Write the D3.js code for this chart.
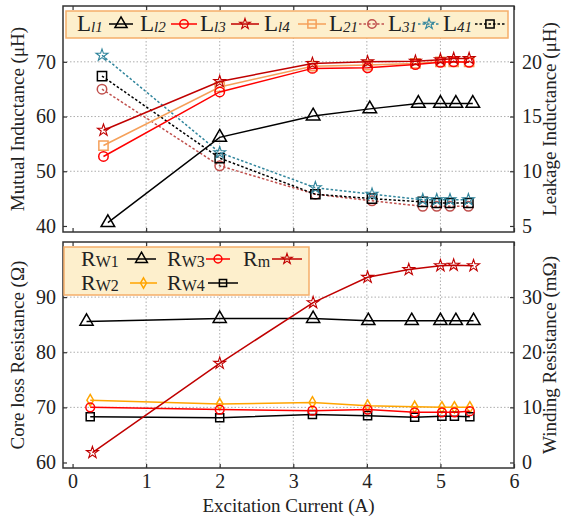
<!DOCTYPE html>
<html>
<head>
<meta charset="utf-8">
<script src="https://cdn.jsdelivr.net/npm/d3@7"></script>
<style>
  body { margin: 0; background: #fff; }
  text { font-family: "Liberation Serif", "DejaVu Serif", serif; fill: #222; }
</style>
</head>
<body>
<script>
// ********************************** //
// ** Data
// ********************************** //
// top panel: inductances vs excitation current (A)
const currentLl1 = [0.48, 2.0, 3.27, 4.04, 4.70, 5.0, 5.21, 5.44];
const currentSelf = [0.42, 2.0, 3.26, 4.01, 4.66, 5.0, 5.18, 5.39];
const currentMutual = [0.40, 2.0, 3.30, 4.07, 4.76, 4.95, 5.13, 5.38];

// left axis (uH)
const Ll1 = [40.6, 56.2, 60.1, 61.4, 62.4, 62.4, 62.4, 62.4];
const Ll2 = [52.7, 64.5, 68.8, 68.9, 69.5, 69.9, 70.0, 69.9];
const Ll3 = [57.5, 66.4, 69.7, 70.0, 70.1, 70.4, 70.6, 70.6];
const Ll4 = [54.7, 65.4, 69.2, 69.4, 69.7, 70.0, 70.0, 70.0];
// right axis (uH)
const L21 = [17.5, 10.5, 7.9, 7.3, 6.8, 6.8, 6.8, 6.8];
const L31 = [20.6, 11.7, 8.5, 7.9, 7.4, 7.4, 7.4, 7.4];
const L41 = [18.7, 11.2, 7.9, 7.5, 7.2, 7.1, 7.1, 7.1];

// bottom panel: resistances vs excitation current (A)
const currentRw1 = [0.19, 2.0, 3.27, 4.02, 4.61, 5.0, 5.21, 5.45];
const currentRw = [0.24, 2.0, 3.26, 4.01, 4.65, 5.02, 5.19, 5.40];
const currentRm = [0.27, 2.0, 3.27, 4.01, 4.57, 5.0, 5.18, 5.45];

// right axis (mOhm)
const Rw1 = [25.6, 26.1, 26.1, 25.7, 25.7, 25.7, 25.7, 25.7];
const Rw2 = [11.3, 10.6, 10.9, 10.3, 10.1, 10.0, 10.0, 10.0];
const Rw3 = [10.0, 9.6, 9.4, 9.6, 9.1, 9.1, 9.1, 9.3];
const Rw4 = [8.3, 8.1, 8.7, 8.5, 8.2, 8.4, 8.4, 8.3];
// left axis (Ohm)
const Rm = [61.8, 78.0, 89.0, 93.6, 95.0, 95.7, 95.8, 95.7];

// ticks
const xTicks = [0, 1, 2, 3, 4, 5, 6];
const topLeftTicks = [40, 50, 60, 70];
const topRightTicks = [5, 10, 15, 20];
const botLeftTicks = [60, 70, 80, 90];
const botRightTicks = [0, 10, 20, 30];

// ********************************** //
// ** Layout
// ********************************** //
const W = 571, H = 520;
const L = 63, R = 514;
const top0 = 6, top1 = 232, bot0 = 242, bot1 = 468;

const svg = d3.select("body").append("svg").attr("width", W).attr("height", H);

const x = d3.scaleLinear().domain([-0.13, 6]).range([L, R]);
const yTopL = d3.scaleLinear().domain([38.9, 80.2]).range([top1, top0]);
const yTopR = d3.scaleLinear().domain([4.45, 25.1]).range([top1, top0]);
const yBotL = d3.scaleLinear().domain([59, 100]).range([bot1, bot0]);
const yBotR = d3.scaleLinear().domain([-1, 40]).range([bot1, bot0]);

const sym = {
  tri: d3.symbolTriangle, circ: d3.symbolCircle, star: d3.symbolStar,
  sq: d3.symbolSquare, dia: d3.symbolDiamond
};
const symSize = { tri: 80, circ: 70, star: 44, sq: 85, dia: 38 };

// ********************************** //
// ** Panel frame, grid, axes
// ********************************** //
const drawPanel = (y0, y1, yL, yR, lTicks, rTicks, showX) => {
  const g = svg.append("g");
  // grid
  g.append("g").selectAll("line").data(xTicks.filter(t => t > 0 && t < 6)).join("line")
    .attr("x1", d => x(d)).attr("x2", d => x(d)).attr("y1", y0).attr("y2", y1)
    .attr("stroke", "#999").attr("stroke-width", 0.8).attr("stroke-dasharray", "1.5,2");
  g.append("g").selectAll("line").data(lTicks.filter(t => yL(t) > y0 + 5 && yL(t) < y1 - 10)).join("line")
    .attr("x1", L).attr("x2", R).attr("y1", d => yL(d)).attr("y2", d => yL(d))
    .attr("stroke", "#999").attr("stroke-width", 0.8).attr("stroke-dasharray", "1.5,2");

  const style = a => {
    a.select(".domain").remove();
    a.selectAll(".tick line").attr("stroke", "#333").attr("stroke-width", 1.2);
    a.selectAll("text").attr("font-size", 20).attr("fill", "#222")
      .style("font-family", "'Liberation Serif', serif");
  };
  g.append("g").attr("transform", `translate(${L},0)`)
    .call(d3.axisLeft(yL).tickValues(lTicks).tickSize(-4).tickPadding(7)).call(style);
  g.append("g").attr("transform", `translate(${R},0)`)
    .call(d3.axisRight(yR).tickValues(rTicks).tickSize(-4).tickPadding(8)).call(style);
  g.append("g").attr("transform", `translate(0,${y1})`)
    .call(d3.axisBottom(x).tickValues(xTicks).tickSize(-4).tickPadding(6)
      .tickFormat(showX ? d3.format("d") : "")).call(style);
  g.append("g").attr("transform", `translate(0,${y0})`)
    .call(d3.axisTop(x).tickValues(xTicks).tickSize(-4).tickFormat("")).call(style);

  g.append("rect").attr("x", L).attr("y", y0).attr("width", R - L).attr("height", y1 - y0)
    .attr("fill", "none").attr("stroke", "#333").attr("stroke-width", 1.5);
  return g;
};

drawPanel(top0, top1, yTopL, yTopR, topLeftTicks, topRightTicks, false);
drawPanel(bot0, bot1, yBotL, yBotR, botLeftTicks, botRightTicks, true);

// ********************************** //
// ** Series
// ********************************** //
const markStroke = shape => (shape === "star" ? 1.1 : 1.5);

const drawSeries = (xs, ys, yScale, o) => {
  const pts = xs.map((v, i) => [x(v), yScale(ys[i])]);
  const g = svg.append("g");
  g.append("path").attr("d", d3.line()(pts)).attr("fill", "none")
    .attr("stroke", o.color).attr("stroke-width", 1.5)
    .attr("stroke-dasharray", o.dash ? "2.5,2" : null);
  g.selectAll("path.m").data(pts).join("path").attr("class", "m")
    .attr("transform", d => `translate(${d[0]},${d[1]})`)
    .attr("d", d3.symbol(sym[o.shape], o.size || symSize[o.shape])())
    .attr("fill", "none").attr("stroke", o.color).attr("stroke-width", markStroke(o.shape));
};

const topSeries = [
  { xs: currentMutual, ys: L21, y: yTopR, color: "#c0504d", shape: "circ", dash: true, name: ["L", "21"] },
  { xs: currentMutual, ys: L41, y: yTopR, color: "#000", shape: "sq", dash: true, name: ["L", "41"] },
  { xs: currentMutual, ys: L31, y: yTopR, color: "#31859c", shape: "star", dash: true, name: ["L", "31"] },
  { xs: currentLl1, ys: Ll1, y: yTopL, color: "#000", shape: "tri", name: ["L", "l1"] },
  { xs: currentSelf, ys: Ll4, y: yTopL, color: "#f5a05a", shape: "sq", name: ["L", "l4"] },
  { xs: currentSelf, ys: Ll2, y: yTopL, color: "#ff0000", shape: "circ", name: ["L", "l2"] },
  { xs: currentSelf, ys: Ll3, y: yTopL, color: "#c00000", shape: "star", name: ["L", "l3"] }
];
topSeries.forEach(s => drawSeries(s.xs, s.ys, s.y, s));

const botSeries = [
  { xs: currentRw1, ys: Rw1, y: yBotR, color: "#000", shape: "tri", size: 75, name: ["R", "W1"] },
  { xs: currentRw, ys: Rw2, y: yBotR, color: "#ffa500", shape: "dia", name: ["R", "W2"] },
  { xs: currentRw, ys: Rw4, y: yBotR, color: "#000", shape: "sq", size: 65, name: ["R", "W4"] },
  { xs: currentRw, ys: Rw3, y: yBotR, color: "#ff0000", shape: "circ", size: 60, name: ["R", "W3"] },
  { xs: currentRm, ys: Rm, y: yBotL, color: "#c00000", shape: "star", name: ["R", "m"] }
];
botSeries.forEach(s => drawSeries(s.xs, s.ys, s.y, s));

// ********************************** //
// ** Legends
// ********************************** //
const legendItem = (g, s, lx, sx, sw, by, big, small, italic) => {
  const t = g.append("text").attr("x", lx).attr("y", by).attr("font-size", big);
  t.append("tspan").text(s.name[0]);
  t.append("tspan").attr("font-size", small).attr("font-style", italic ? "italic" : null)
    .attr("dy", 1).text(s.name[1]);
  const cy = by - 7;
  g.append("line").attr("x1", sx).attr("x2", sx + sw).attr("y1", cy).attr("y2", cy)
    .attr("stroke", s.color).attr("stroke-width", 1.5)
    .attr("stroke-dasharray", s.dash ? "2.5,2" : null);
  g.append("path").attr("transform", `translate(${sx + sw / 2},${cy})`)
    .attr("d", d3.symbol(sym[s.shape], (s.size || symSize[s.shape]) * 0.8)())
    .attr("fill", "none").attr("stroke", s.color).attr("stroke-width", markStroke(s.shape));
};

const legTop = svg.append("g");
legTop.append("rect").attr("x", 66).attr("y", 11).attr("width", 442).attr("height", 27)
  .attr("fill", "#fdefcc").attr("stroke", "#f5ae6a").attr("stroke-width", 1.5);
const topOrder = ["l1", "l2", "l3", "l4", "21", "31", "41"]
  .map(k => topSeries.find(s => s.name[1] === k));
const topLabelX = [77, 140, 200, 264, 329, 388, 443];
const topSymX = [109, 171, 231, 298, 359, 418, 475];
const topSymW = [24, 26, 28, 28, 26, 22, 30];
topOrder.forEach((s, i) =>
  legendItem(legTop, s, topLabelX[i], topSymX[i], topSymW[i], 31, 23, 15, true));

const legBot = svg.append("g");
legBot.append("rect").attr("x", 64).attr("y", 247).attr("width", 245).attr("height", 48)
  .attr("fill", "#fdefcc").attr("stroke", "#f5ae6a").attr("stroke-width", 1.5);
const botPlace = {
  W1: [81, 127, 29, 266], W3: [167, 206, 24, 266], m: [243, 272, 30, 266],
  W2: [81, 130, 27, 290], W4: [167, 208, 30, 290]
};
botSeries.forEach(s => {
  const p = botPlace[s.name[1]];
  legendItem(legBot, s, p[0], p[1], p[2], p[3], 22, 16, false);
});

// ********************************** //
// ** Axis titles
// ********************************** //
const title = (tx, ty, rot, txt) => svg.append("text")
  .attr("transform", `translate(${tx},${ty}) rotate(${rot})`)
  .attr("text-anchor", "middle").attr("font-size", 19).text(txt);

title(24, (top0 + top1) / 2, -90, "Mutual Inductance (\u03bcH)");
title(24, (bot0 + bot1) / 2, -90, "Core loss Resistance (\u03a9)");
title(556, (top0 + top1) / 2, -90, "Leakage Inductance (\u03bcH)");
title(556, (bot0 + bot1) / 2, -90, "Winding Resistance (m\u03a9)");
title((L + R) / 2, 512, 0, "Excitation Current (A)");
</script>
</body>
</html>
